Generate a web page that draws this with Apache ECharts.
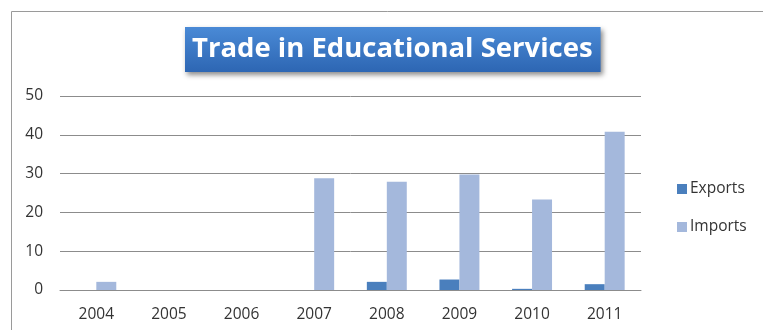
<!DOCTYPE html>
<html>
<head>
<meta charset="utf-8">
<script src="https://cdn.jsdelivr.net/npm/echarts@6/dist/echarts.min.js"></script>
<style>
  html, body { margin: 0; padding: 0; background: #fff; }
  #chart { width: 763px; height: 330px; }
</style>
</head>
<body>
<div id="chart"></div>
<script>
const years = ['2004', '2005', '2006', '2007', '2008', '2009', '2010', '2011'];
const exportsValues = [0, 0, 0, 0, 2.1, 2.7, 0.3, 1.5];
const importsValues = [2.1, 0, 0, 28.8, 27.9, 29.8, 23.3, 40.8];
const yTicks = [0, 10, 20, 30, 40, 50];

const FONT = 'Open Sans';

const chart = echarts.init(document.getElementById('chart'));
chart.setOption({
  animation: false,
  backgroundColor: '#ffffff',
  title: {
    text: 'Trade in Educational Services',
    left: 185,
    top: 27,
    padding: [6, 8, 6, 7],
    backgroundColor: new echarts.graphic.LinearGradient(0, 0, 0, 1, [
      { offset: 0, color: '#4a8ad6' },
      { offset: 1, color: '#2d66b3' }
    ]),
    shadowColor: 'rgba(0,0,0,0.45)',
    shadowBlur: 5,
    shadowOffsetX: 2,
    shadowOffsetY: 3,
    textStyle: {
      color: '#ffffff',
      fontFamily: FONT,
      fontWeight: 'bold',
      fontSize: 27.5,
      lineHeight: 33
    }
  },
  graphic: [{
    type: 'polyline',
    shape: { points: [[11.5, 330], [11.5, 11.5], [763, 11.5]] },
    style: { stroke: '#9a9a9a', lineWidth: 1, fill: null },
    silent: true
  }],
  legend: {
    orient: 'vertical',
    left: 672,
    top: 176,
    itemWidth: 10,
    itemHeight: 10,
    itemGap: 22,
    icon: 'rect',
    textStyle: { fontFamily: FONT, fontSize: 15.5, color: '#333333', padding: [0, 0, 0, -2] },
    data: ['Exports', 'Imports']
  },
  grid: { left: 60, right: 122, top: 96, bottom: 40, containLabel: false },
  xAxis: {
    type: 'category',
    data: years,
    axisTick: { show: false },
    axisLine: { lineStyle: { color: '#8c8c8c', width: 1 } },
    axisLabel: { fontFamily: FONT, fontSize: 15.5, color: '#333333', margin: 17 }
  },
  yAxis: {
    type: 'value',
    min: yTicks[0],
    max: yTicks[yTicks.length - 1],
    interval: 10,
    axisLine: { show: false },
    axisTick: { show: false },
    splitLine: { lineStyle: { color: '#8c8c8c', width: 1 } },
    axisLabel: { fontFamily: FONT, fontSize: 15.5, color: '#333333', margin: 17 }
  },
  series: [
    {
      name: 'Exports',
      type: 'bar',
      data: exportsValues,
      barGap: '0%',
      barCategoryGap: '45%',
      itemStyle: { color: '#4a7fbd' }
    },
    {
      name: 'Imports',
      type: 'bar',
      data: importsValues,
      barGap: '0%',
      barCategoryGap: '45%',
      itemStyle: { color: '#a4b8dc' }
    }
  ]
});
</script>
</body>
</html>
